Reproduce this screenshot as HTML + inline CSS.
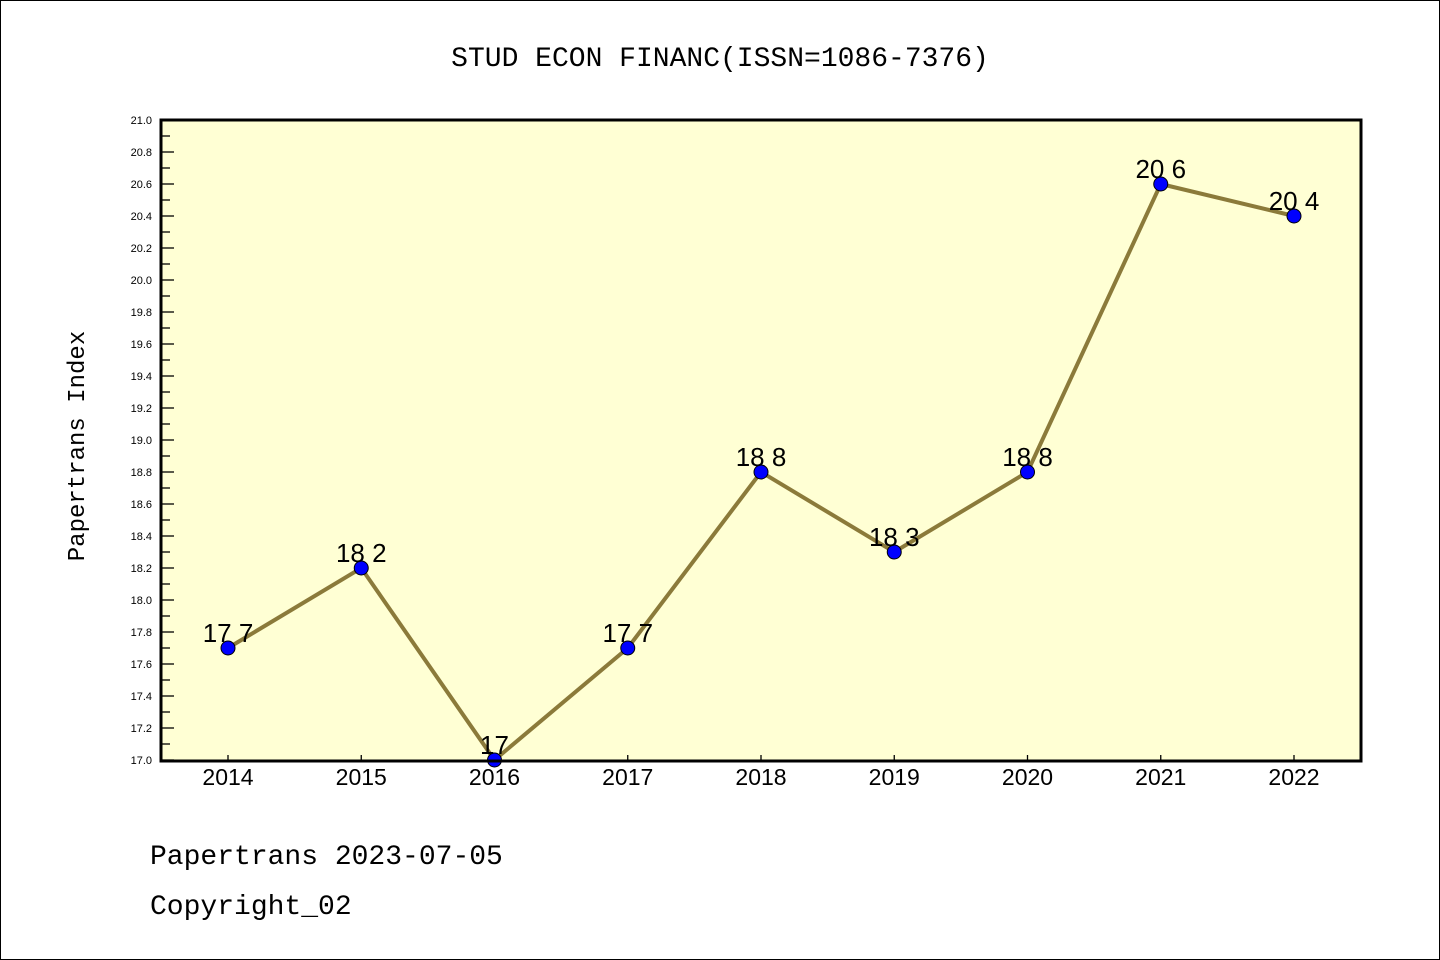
<!DOCTYPE html>
<html><head><meta charset="utf-8"><style>
html,body{margin:0;padding:0;background:#fff}
svg{display:block;font-family:"Liberation Sans","WenQuanYi Zen Hei",sans-serif}
</style></head><body>
<svg id="chart" width="1440" height="960" viewBox="0 0 1440 960" xmlns="http://www.w3.org/2000/svg">
<rect x="0.5" y="0.5" width="1439" height="959" fill="#fff" stroke="#000"/>
<text x="720" y="66" text-anchor="middle" font-size="28" font-family="'WenQuanYi Zen Hei','Liberation Mono',monospace">STUD ECON FINANC(ISSN=1086-7376)</text>
<rect x="161" y="120" width="1200" height="641" fill="#ffffd4"/>
<g id="yaxis"></g>
<g id="xaxis"></g>
<g id="series"></g>
<rect x="161" y="120" width="1200" height="641" fill="none" stroke="#000" stroke-width="3"/>
<text transform="translate(84,446) rotate(-90)" text-anchor="middle" font-size="24" font-family="'WenQuanYi Zen Hei','Liberation Mono',monospace">Papertrans Index</text>
<text x="150" y="864" font-size="28" font-family="'WenQuanYi Zen Hei','Liberation Mono',monospace">Papertrans 2023-07-05</text>
<text x="150" y="914" font-size="28" font-family="'WenQuanYi Zen Hei','Liberation Mono',monospace">Copyright_02</text>
</svg>
<script>
const years = ["2014","2015","2016","2017","2018","2019","2020","2021","2022"];
const values = [17.7, 18.2, 17.0, 17.7, 18.8, 18.3, 18.8, 20.6, 20.4];
const valueLabels = ["17.7","18.2","17","17.7","18.8","18.3","18.8","20.6","20.4"];
const yMin = 17.0, yMax = 21.0;
const NS = "http://www.w3.org/2000/svg";
function X(i){ return 228 + i * (1294 - 228) / (years.length - 1); }
function Y(v){ return 760 - (v - yMin) / (yMax - yMin) * 640; }
function mk(tag, attrs, parent){ const e = document.createElementNS(NS, tag); for (const k in attrs) e.setAttribute(k, attrs[k]); parent.appendChild(e); return e; }
const ya = document.getElementById('yaxis');
for (let k = 0; k <= 40; k++) {
  const v = yMin + k * 0.1, y = Y(v), major = k % 2 === 0;
  const t = mk('line', {x1:161, x2:161 + (major ? 13 : 9), y1:y, y2:y, stroke:'#000', 'stroke-width':1.3}, ya);
  
  
  if (major) {
    const l = mk('text', {x:152, y:y + 4, 'text-anchor':'end', 'font-size':11}, ya);
    l.textContent = v.toFixed(1);
    
    
  }
}
const xa = document.getElementById('xaxis');
years.forEach((yr, i) => {
  const x = X(i);
  const t = mk('line', {x1:x, x2:x, y1:761, y2:755, stroke:'#000', 'stroke-width':1.3}, xa);
  
  
  const l = mk('text', {x:x, y:785, 'text-anchor':'middle', 'font-size':23}, xa);
  l.textContent = yr;
  
  
});
const s = document.getElementById('series');
const pl = mk('polyline', {points: values.map((v,i)=>X(i)+','+Y(v)).join(' '), fill:'none', stroke:'#8b7a3a', 'stroke-width':4}, s);


values.forEach((v, i) => {
  const c = mk('circle', {cx:X(i), cy:Y(v), r:7, fill:'#0000ff', stroke:'#000', 'stroke-width':1}, s);
  
  
  const l = mk('text', {x:X(i), y:Y(v) - 6, 'text-anchor':'middle', 'font-size':26, 'font-family':"'WenQuanYi Zen Hei','Liberation Sans',sans-serif"}, s);
  l.textContent = valueLabels[i].replace('.', ' ');
  
  
});
</script>
</body></html>
